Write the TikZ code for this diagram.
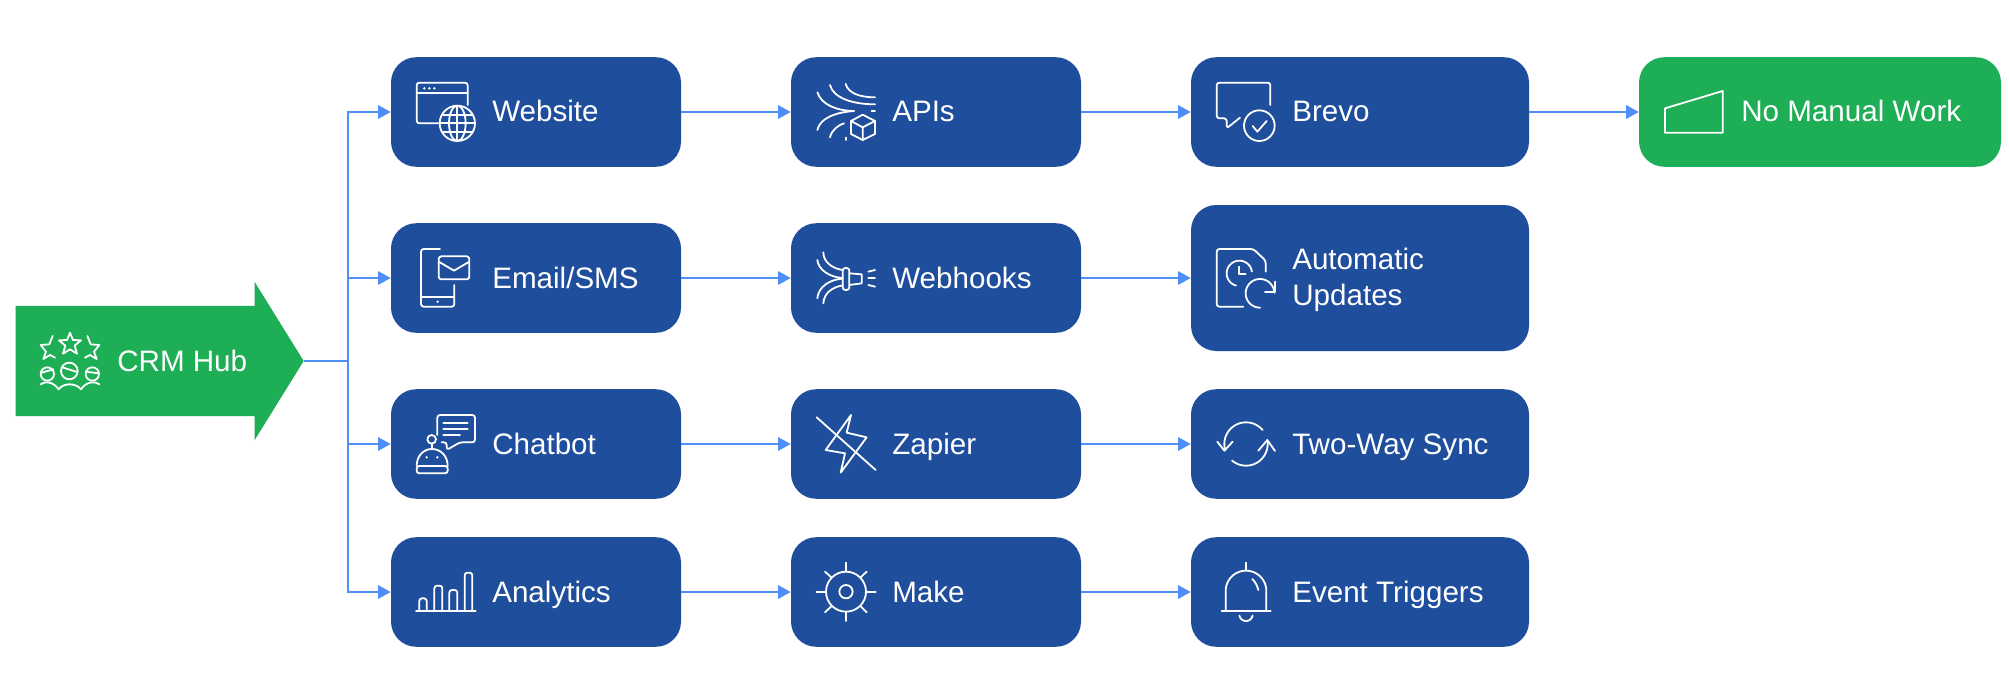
\documentclass[tikz,border=0pt]{standalone}
\usepackage{fontspec}
\setmainfont{Liberation Sans}
\usetikzlibrary{arrows.meta,shapes.arrows,calc}
\definecolor{boxblue}{HTML}{1F4E9C}
\definecolor{boxgreen}{HTML}{1EAE55}
\definecolor{linkblue}{HTML}{4F8FF7}
\newcommand{\arcp}[5]{plot[domain=#4:#5,samples=40,variable=\t] ({#1+#2*cos(\t)},{#3+#2*sin(\t)})}
\tikzset{
  x=0.75pt,y=-0.75pt,
  card/.style n args={2}{rounded corners=19pt,fill=#2,draw=none,minimum width=#1*0.75pt,inner sep=0pt},
  bluecard/.style={card={#1}{boxblue},minimum height=82.2pt},
  greencard/.style={card={#1}{boxgreen},minimum height=82.2pt},
  captxt/.style={text=white,font=\fontsize{22.2}{27}\selectfont,inner sep=0pt,align=left},
  link/.style={draw=linkblue,line width=1.5pt},
  linkarrow/.style={link,-{Triangle[length=9.5pt,width=10pt]}},
  ico/.style={draw=white,line width=1.35pt,line cap=round,line join=round},
  icor/.style={ico,rounded corners=2pt},
  dotw/.style={fill=white,draw=none},
  zo/.style 2 args={shift={(#1,#2)},scale=1/3},
}
\begin{document}
\begin{tikzpicture}
\useasboundingbox[fill=white] (0,0) rectangle (2009,692);

% hub arrow
\node[single arrow,fill=boxgreen,draw=none,inner sep=0pt,minimum height=216pt,
      text height=82.2pt,text depth=0pt,text width=1pt,
      single arrow head extend=18pt,single arrow tip angle=116.4,anchor=tip] (crm) at (304,361) {};
\node[captxt,anchor=base west] (crmt) at (117,371) {CRM Hub};
\coordinate (trunk) at (348,361);

% cards, column 1
\node[bluecard=290] (web) at (536,112) {};
\node[bluecard=290] (mail) at (536,278) {};
\node[bluecard=290] (chat) at (536,444) {};
\node[bluecard=290] (ana) at (536,592) {};
% column 2
\node[bluecard=290] (api) at (936,112) {};
\node[bluecard=290] (hook) at (936,278) {};
\node[bluecard=290] (zap) at (936,444) {};
\node[bluecard=290] (make) at (936,592) {};
% column 3
\node[bluecard=338] (bre) at (1360,112) {};
\node[bluecard=338,minimum height=109.5pt] (auto) at (1360,278) {};
\node[bluecard=338] (sync) at (1360,444) {};
\node[bluecard=338] (bell) at (1360,592) {};
% result
\node[greencard=362] (nomw) at (1820,112) {};

% captions
\node[captxt,anchor=base west] (webt) at (492,122) {Website};
\node[captxt,anchor=base west] (mailt) at (492,288) {Email/SMS};
\node[captxt,anchor=base west] (chatt) at (492,454) {Chatbot};
\node[captxt,anchor=base west] (anat) at (492,602) {Analytics};
\node[captxt,anchor=base west] (apit) at (892,122) {APIs};
\node[captxt,anchor=base west] (hookt) at (892,288) {Webhooks};
\node[captxt,anchor=base west] (zapt) at (892,454) {Zapier};
\node[captxt,anchor=base west] (maket) at (892,602) {Make};
\node[captxt,anchor=base west] (bret) at (1292,122) {Brevo};
\node[captxt,anchor=west] (autot) at (1292,280) {Automatic\\Updates};
\node[captxt,anchor=base west] (synct) at (1292,454) {Two-Way Sync};
\node[captxt,anchor=base west] (bellt) at (1292,602) {Event Triggers};
\node[captxt,anchor=base west] (nomwt) at (1741,122) {No Manual Work};

% connectors
\draw[link] (crm.tip) -- (trunk);
\draw[linkarrow] (trunk) |- (web.west);
\draw[linkarrow] (trunk) |- (mail.west);
\draw[linkarrow] (trunk) |- (chat.west);
\draw[linkarrow] (trunk) |- (ana.west);
\draw[linkarrow] (web) -- (api);
\draw[linkarrow] (mail) -- (hook);
\draw[linkarrow] (chat) -- (zap);
\draw[linkarrow] (ana) -- (make);
\draw[linkarrow] (api) -- (bre);
\draw[linkarrow] (hook) -- (auto);
\draw[linkarrow] (zap) -- (sync);
\draw[linkarrow] (make) -- (bell);
\draw[linkarrow] (bre) -- (nomw);

% --- icons, drawn in 3x crop coordinates ---
% CRM
\begin{scope}[zo={0}{260}]
  \draw[ico] (210,218)--(219,240)--(243,241)--(224,257)--(231,281)--(210,268)--(189,281)--(196,257)--(177,241)--(201,240)--cycle;
  \draw[ico] (158,228)--(148,253)--(122,255)--(138,275)--(130,297)--(150,285)--(165,293);
  \draw[ico] (262,228)--(272,253)--(298,255)--(282,275)--(290,297)--(270,285)--(255,293);
  \draw[ico] (142,342) circle (20);
  \draw[ico] (208,333) circle (25);
  \draw[ico] (277,342) circle (20);
  \draw[ico] (125,338)--(160,328);
  \draw[ico] (187,322)--(228,335);
  \draw[ico] (258,335)--(296,340);
  \draw[ico] (122,373) .. controls (135,362) and (160,365) .. (176,388);
  \draw[ico] (176,388) .. controls (190,368) and (228,368) .. (243,388);
  \draw[ico] (243,388) .. controls (258,365) and (285,362) .. (298,373);
\end{scope}
% Website
\begin{scope}[zo={380}{40}]
  \draw[icor] (175,250)--(110,250)--(110,128)--(263,128)--(263,195);
  \draw[ico] (110,160)--(263,160);
  \fill[dotw] (133,145) circle (4) (148,145) circle (4) (163,145) circle (4);
  \draw[ico] (232,250) circle (53);
  \draw[ico] (232,250) ellipse (25 and 53);
  \draw[ico] (232,197)--(232,303);
  \draw[ico] (180,250)--(285,250) (187,225)--(277,225) (187,275)--(277,275);
\end{scope}
% Email/SMS
\begin{scope}[zo={380}{40}]
  \draw[icor] (180,627)--(123,627)--(123,800)--(223,800)--(223,735);
  \draw[ico] (123,770)--(223,770);
  \fill[dotw] (173,785) circle (4);
  \draw[icor] (176,649) rectangle (268,718);
  \draw[ico] (176,665)--(222,692)--(268,665);
\end{scope}
% Chatbot
\begin{scope}[zo={380}{380}]
  \draw[icor] (172,165)--(172,105)--(285,105)--(285,187)--(240,187)--(200,210)--(200,187)--(185,187);
  \draw[ico] (190,128)--(263,128) (190,147)--(263,147) (190,165)--(240,165);
  \draw[ico] (155,178) circle (13);
  \draw[ico] (155,191)--(155,207);
  \draw[ico] (110,258) .. controls (110,228) and (130,207) .. (156,207) .. controls (182,207) and (203,228) .. (203,258);
  \draw[icor] (110,258) rectangle (203,280);
  \fill[dotw] (140,232) circle (4) (172,232) circle (4);
\end{scope}
% Analytics
\begin{scope}[zo={380}{380}]
  \draw[ico] (108,692)--(287,692);
  \draw[icor] (118,692)--(118,655)--(140,655)--(140,692);
  \draw[icor] (163,692)--(163,617)--(187,617)--(187,692);
  \draw[icor] (208,692)--(208,630)--(232,630)--(232,692);
  \draw[icor] (254,692)--(254,578)--(277,578)--(277,692);
\end{scope}
% APIs
\begin{scope}[zo={780}{40}]
  \draw[ico] (112,157) .. controls (125,195) and (170,212) .. (222,213);
  \draw[ico] (112,270) .. controls (120,235) and (165,217) .. (222,213);
  \draw[ico] (150,135) .. controls (160,175) and (220,193) .. (285,193);
  \draw[ico] (197,132) .. controls (205,160) and (240,172) .. (285,172);
  \draw[ico] (150,292) .. controls (155,270) and (175,255) .. (192,250);
  \draw[ico] (275,214)--(285,214);
  \draw[ico] (198,293)--(198,300);
  \draw[ico] (248,224)--(285,243)--(285,282)--(248,300)--(213,282)--(213,243)--cycle;
  \draw[ico] (213,243)--(248,262)--(285,243) (248,262)--(248,300);
\end{scope}
% Webhooks
\begin{scope}[zo={780}{40}]
  \draw[ico] (130,637) .. controls (130,665) and (155,685) .. (188,690);
  \draw[ico] (112,660) .. controls (115,690) and (150,712) .. (188,714);
  \draw[ico] (112,775) .. controls (115,740) and (150,718) .. (188,716);
  \draw[ico] (130,790) .. controls (132,760) and (155,742) .. (188,736);
  \draw[icor] (188,684) rectangle (208,750);
  \draw[ico] (208,700)--(245,703)--(245,730)--(208,735);
  \draw[ico] (265,695)--(285,690) (265,714)--(285,714) (265,735)--(285,740);
\end{scope}
% Zapier
\begin{scope}[zo={780}{380}]
  \draw[ico] (213,105)--(200,158)--(260,172)--(182,278)--(195,220)--(137,210)--cycle;
  \draw[ico] (110,112)--(287,270);
\end{scope}
% Make
\begin{scope}[zo={780}{380}]
  \draw[ico] (198,635) circle (60);
  \draw[ico] (198,635) circle (20);
  \draw[ico] (198,548)--(198,575) (198,695)--(198,723) (110,635)--(138,635) (258,635)--(287,635);
  \draw[ico] (135,575)--(155,593) (260,575)--(241,593) (135,697)--(155,678) (260,697)--(241,678);
\end{scope}
% Brevo
\begin{scope}[zo={1180}{40}]
  \draw[icor] (271,195)--(271,128)--(110,128)--(110,235)--(140,235)--(140,265)--(180,233);
  \draw[ico] (238,257) circle (46);
  \draw[ico] (218,258)--(232,275)--(260,243);
\end{scope}
% Automatic Updates
\begin{scope}[zo={1180}{40}]
  \draw[icor] (190,800)--(110,800)--(110,627)--(220,627)--(257,662)--(257,695);
  \draw[ico] \arcp{178}{38}{700}{105}{352};
  \draw[ico] (178,680)--(178,703)--(197,703);
  \draw[ico] \arcp{240}{43}{760}{90}{358};
  \draw[ico] (255,757)--(285,757)--(285,725);
\end{scope}
% Two-Way Sync
\begin{scope}[zo={1180}{380}]
  \draw[ico] \arcp{198}{65}{192}{163}{320};
  \draw[ico] \arcp{198}{65}{192}{-10}{130};
  \draw[ico] (112,185)--(133,212)--(158,185);
  \draw[ico] (235,212)--(262,180)--(285,213);
\end{scope}
% Event Triggers
\begin{scope}[zo={1180}{380}]
  \draw[ico] (198,548)--(198,572);
  \draw[ico] (137,690)--(137,633) \arcp{198}{61}{633}{180}{360} -- (259,690);
  \draw[ico] (125,692)--(272,692);
  \draw[ico] \arcp{198}{20}{703}{10}{170};
  \draw[ico] (217,597) .. controls (226,606) and (232,618) .. (235,630);
\end{scope}
% No Manual Work
\begin{scope}[zo={1500}{40}]
  \draw[ico] (495,205)--(668,153)--(668,278)--(495,278)--cycle;
\end{scope}
\end{tikzpicture}
\end{document}
